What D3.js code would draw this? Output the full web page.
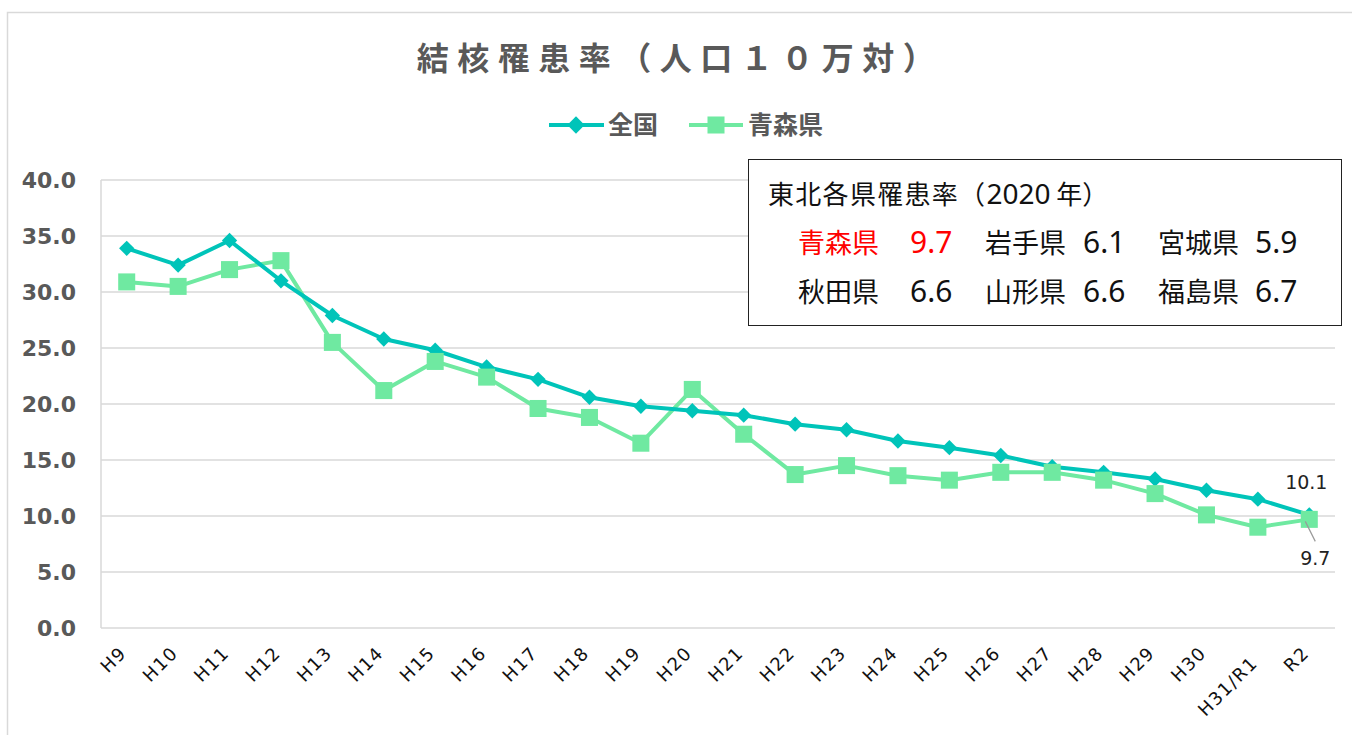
<!DOCTYPE html>
<html><head><meta charset="utf-8">
<script src="https://cdn.jsdelivr.net/npm/d3@7"></script>
<style>
html,body{margin:0;padding:0;background:#fff;}
svg{display:block;}
</style>
</head><body>
<svg id="c" width="1352" height="735"></svg>
<script>
const categories = ["H9","H10","H11","H12","H13","H14","H15","H16","H17","H18","H19","H20","H21","H22","H23","H24","H25","H26","H27","H28","H29","H30","H31/R1","R2"];
const national = [33.9,32.4,34.6,31.0,27.9,25.8,24.8,23.3,22.2,20.6,19.8,19.4,19.0,18.2,17.7,16.7,16.1,15.4,14.4,13.9,13.3,12.3,11.5,10.1];
const aomori = [30.9,30.5,32.0,32.8,25.5,21.2,23.8,22.4,19.6,18.8,16.5,21.3,17.3,13.7,14.5,13.6,13.2,13.9,13.9,13.2,12.0,10.1,9.0,9.7];
const seriesNames = ["全国","青森県"];
const yTicks = [0,5,10,15,20,25,30,35,40];
const chartTitle = "結核罹患率（人口１０万対）";
const boxTitleA = "東北各県罹患率（";
const boxTitleB = "2020";
const boxTitleC = " 年）";
const boxPrefs = [["青森県","9.7"],["岩手県","6.1"],["宮城県","5.9"],["秋田県","6.6"],["山形県","6.6"],["福島県","6.7"]];

const colNat = "#00C4B9", colAom = "#6FE9A1";
const svg = d3.select("#c");
const L = 101, R = 1335, T = 180, B = 628;

// outer frame
svg.append("rect").attr("x",7.5).attr("y",12.5).attr("width",1400).attr("height",800)
  .attr("fill","none").attr("stroke","#d9d9d9").attr("stroke-width",1.5);

const x = d3.scaleBand().domain(categories).range([L,R]);
const y = d3.scaleLinear().domain([0,40]).range([B,T]);
const cx = d => x(d) + x.bandwidth()/2;

// gridlines
svg.append("g").selectAll("line").data(yTicks).join("line")
  .attr("x1",L).attr("x2",R).attr("y1",d=>y(d)).attr("y2",d=>y(d))
  .attr("stroke","#d9d9d9").attr("stroke-width",1.5);
svg.append("line").attr("x1",L).attr("x2",L).attr("y1",T).attr("y2",B)
  .attr("stroke","#d9d9d9").attr("stroke-width",1.5);

// y axis labels
const yAxis = d3.axisLeft(y).tickValues(yTicks).tickFormat(d3.format(".1f")).tickSize(0).tickPadding(25);
const ga = svg.append("g").attr("transform",`translate(${L},0)`).call(yAxis);
ga.select(".domain").remove();
ga.selectAll("text").attr("font-family","'DejaVu Sans', sans-serif").attr("font-weight","bold")
  .attr("font-size",22).attr("fill","#595959");

// x axis labels
const xAxis = d3.axisBottom(x).tickSize(0).tickPadding(0);
const gx = svg.append("g").attr("transform",`translate(0,${B})`).call(xAxis);
gx.select(".domain").remove();
gx.selectAll("text").attr("font-family","'DejaVu Sans', sans-serif").attr("font-size",18)
  .attr("letter-spacing",1.5).attr("fill","#111").attr("text-anchor","end").attr("dy",0)
  .attr("transform", d => `translate(1,${d==="H31/R1"?36:26}) rotate(-45)`);

// lines
const line = d3.line().x((d,i)=>cx(categories[i])).y(d=>y(d));
svg.append("path").datum(aomori).attr("d",line).attr("fill","none").attr("stroke",colAom).attr("stroke-width",4).attr("stroke-linejoin","round");
svg.append("path").datum(national).attr("d",line).attr("fill","none").attr("stroke",colNat).attr("stroke-width",4).attr("stroke-linejoin","round");

const sq = d3.symbol().type(d3.symbolSquare).size(290);
const dia = d3.symbol().type(d3.symbolDiamond2).size(150);
svg.append("g").selectAll("path").data(national).join("path")
  .attr("d",dia).attr("transform",(d,i)=>`translate(${cx(categories[i])},${y(d)})`).attr("fill",colNat);
svg.append("g").selectAll("path").data(aomori).join("path")
  .attr("d",sq).attr("transform",(d,i)=>`translate(${cx(categories[i])},${y(d)})`).attr("fill",colAom);

// data labels for last point
const last = categories.length-1, lx = cx(categories[last]);
svg.append("text").attr("x",lx-3).attr("y",y(national[last])-26).attr("text-anchor","middle")
  .attr("font-family","'DejaVu Sans', sans-serif").attr("font-size",19).attr("fill","#222").text(national[last].toFixed(1));
svg.append("line").attr("x1",lx-4).attr("y1",y(aomori[last])+2).attr("x2",lx+6).attr("y2",y(aomori[last])+22)
  .attr("stroke","#999").attr("stroke-width",1.2);
svg.append("text").attr("x",lx+6).attr("y",y(aomori[last])+46).attr("text-anchor","middle")
  .attr("font-family","'DejaVu Sans', sans-serif").attr("font-size",19).attr("fill","#222").text(aomori[last].toFixed(1));

// title
svg.append("text").attr("x",680).attr("y",70).attr("text-anchor","middle")
  .attr("font-family","'Noto Sans CJK JP', sans-serif").attr("font-weight","bold").attr("font-size",32)
  .attr("letter-spacing",8.5).attr("fill","#595959").text(chartTitle);

// legend
const lg = svg.append("g").attr("font-family","'Noto Sans CJK JP', sans-serif").attr("font-weight","bold").attr("font-size",25).attr("fill","#595959");
lg.append("line").attr("x1",549).attr("x2",604).attr("y1",125).attr("y2",125).attr("stroke",colNat).attr("stroke-width",4);
lg.append("path").attr("d",d3.symbol().type(d3.symbolDiamond2).size(190)).attr("transform","translate(576,125)").attr("fill",colNat);
lg.append("text").attr("x",608).attr("y",134).text(seriesNames[0]);
lg.append("line").attr("x1",689).attr("x2",743).attr("y1",125).attr("y2",125).attr("stroke",colAom).attr("stroke-width",4);
lg.append("path").attr("d",sq).attr("transform","translate(716,125)").attr("fill",colAom);
lg.append("text").attr("x",748).attr("y",134).text(seriesNames[1]);

// info box
const bx = svg.append("g").attr("font-family","'Noto Sans CJK JP', sans-serif");
bx.append("rect").attr("x",748.5).attr("y",159.5).attr("width",593).attr("height",166).attr("fill","#fff").attr("stroke","#222").attr("stroke-width",1);
const tt = bx.append("text").attr("x",768).attr("y",204).attr("font-size",26).attr("fill","#111");
tt.append("tspan").attr("letter-spacing",1.3).text(boxTitleA);
tt.append("tspan").attr("font-family","'Noto Sans', sans-serif").attr("font-size",28).text(boxTitleB);
tt.append("tspan").text(boxTitleC);
const colX = [[798,910],[985,1083],[1158,1255]];
boxPrefs.forEach((p,i)=>{
  const r = Math.floor(i/3), c = i%3;
  const yy = 253 + r*49;
  const col = i===0 ? "#FF0000" : "#111";
  bx.append("text").attr("x",colX[c][0]).attr("y",yy).attr("font-size",27).attr("fill",col).text(p[0]);
  bx.append("text").attr("x",colX[c][1]).attr("y",yy).attr("font-family","'Noto Sans', sans-serif").attr("font-size",30).attr("fill",col).text(p[1]);
});
</script>
</body></html>
